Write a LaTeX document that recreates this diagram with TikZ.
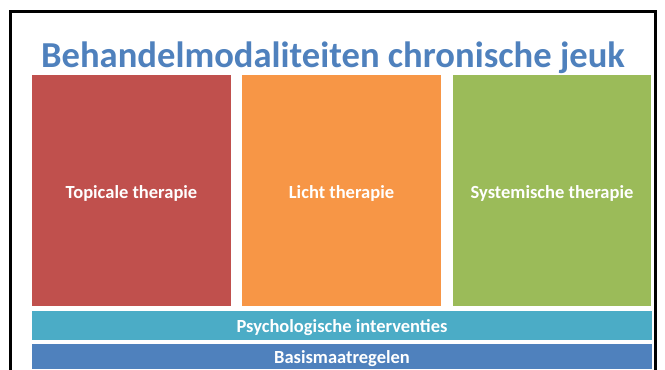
\documentclass[tikz,border=0pt]{standalone}
\usepackage{fontspec}
\setmainfont{Carlito}
\usepackage{tikz}
\usetikzlibrary{positioning}

\definecolor{titleblue}{HTML}{4F81BD}
\definecolor{boxred}{HTML}{C0504D}
\definecolor{boxorange}{HTML}{F79646}
\definecolor{boxgreen}{HTML}{9BBB59}
\definecolor{boxcyan}{HTML}{4BACC6}
\definecolor{boxblue}{HTML}{4F81BD}

\begin{document}
\begin{tikzpicture}[
  x=1pt, y=-1pt,
  column/.style = {rectangle, minimum width=199pt, minimum height=231pt, inner sep=0pt},
  layer/.style = {rectangle, minimum width=620pt, inner sep=0pt},
  label/.style = {text=white, yshift=-2.5pt, font=\fontsize{18.5}{22}\selectfont\bfseries},
  frame/.style = {line width=3pt, black}
]

% Page
\useasboundingbox (0,0) rectangle (665,370);

% Frame, open at the bottom
\draw[frame] (10.5,372) -- (10.5,11.5) -- (655.5,11.5) -- (655.5,372);

% Title
\node[anchor=base, text=titleblue, font=\fontsize{36.6}{44}\selectfont\bfseries] (title) at (333,67)
  {Behandelmodaliteiten chronische jeuk};

% Three columns
\node[column, fill=boxred] (topical) at (131.5,190.5) {};
\node[column, fill=boxorange] (light) at (341.5,190.5) {};
\node[column, fill=boxgreen, minimum width=198pt] (systemic) at (552,190.5) {};
\node[label] at (topical) {Topicale therapie};
\node[label] at (light) {Licht therapie};
\node[label] at (systemic) {Systemische therapie};

% Base layers
\node[layer, fill=boxcyan, minimum height=29pt] (psych) at (342,325.5) {};
\node[label] at (psych) {Psychologische interventies};
\node[layer, fill=boxblue, minimum height=25pt] (basis) at (342,356.5) {};
\node[label] at (basis) {Basismaatregelen};

\end{tikzpicture}
\end{document}
